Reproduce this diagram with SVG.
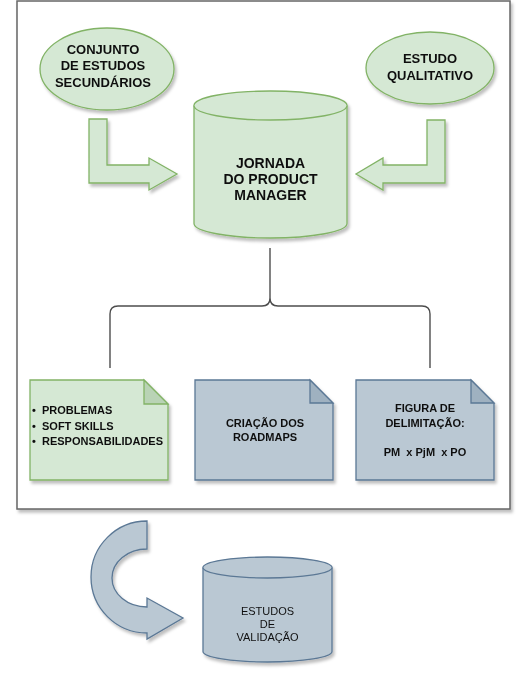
<svg xmlns="http://www.w3.org/2000/svg" width="529" height="682" viewBox="0 0 529 682">
<defs>
<filter id="sh" x="-10%" y="-10%" width="130%" height="130%">
<feDropShadow dx="2" dy="3" stdDeviation="1.5" flood-color="#000" flood-opacity="0.25"/>
</filter>
</defs>
<style>
.g{fill:#d5e8d4;stroke:#82b366;stroke-width:1.3}
.b{fill:#bac8d3;stroke:#5b7895;stroke-width:1.3}
.fg{fill:#b9d3b5;stroke:#82b366;stroke-width:1.3}
.fb{fill:#9fb1c0;stroke:#5b7895;stroke-width:1.3}
text{font-family:"Liberation Sans",Arial,sans-serif;fill:#111;text-anchor:middle}
.t13{font-size:13px;font-weight:bold}
.t14{font-size:14px;font-weight:bold}
.t11{font-size:11px;font-weight:bold}
.r11{font-size:11px}
.conn{fill:none;stroke:#4d4d4d;stroke-width:1.4}
</style>
<rect x="17" y="1" width="493" height="508" fill="#fff" stroke="#666" stroke-width="1.5" filter="url(#sh)"/>

<g id="conjunto" filter="url(#sh)">
<ellipse class="g" cx="107" cy="69" rx="67" ry="41"/>
<text class="t13" x="103" y="54">CONJUNTO</text>
<text class="t13" x="103" y="70">DE ESTUDOS</text>
<text class="t13" x="103" y="87">SECUNDÁRIOS</text>
</g>

<g id="qualitativo" filter="url(#sh)">
<ellipse class="g" cx="430" cy="68" rx="64" ry="36"/>
<text class="t13" x="430" y="63">ESTUDO</text>
<text class="t13" x="430" y="80">QUALITATIVO</text>
</g>

<g id="arrow-left" filter="url(#sh)">
<polygon class="g" points="89,119 107,119 107,165 149,165 149,158 177,174 149,190 149,183 89,183"/>
</g>
<g id="arrow-right" filter="url(#sh)">
<polygon class="g" points="445,120 427,120 427,165 383,165 383,158 356,174 383,190 383,183 445,183"/>
</g>

<g id="jornada" filter="url(#sh)">
<path class="g" d="M194,105.5 A76.5,14.5 0 0 1 347,105.5 V223.5 A76.5,14.5 0 0 1 194,223.5 Z"/>
<path class="g" fill="none" d="M194,105.5 A76.5,14.5 0 0 0 347,105.5"/>
<text class="t14" x="270.5" y="168">JORNADA</text>
<text class="t14" x="270.5" y="184">DO PRODUCT</text>
<text class="t14" x="270.5" y="200">MANAGER</text>
</g>

<g id="connectors">
<path class="conn" d="M270,248 V298"/>
<path class="conn" d="M110,368 V314 Q110,306 118,306 H262 Q270,306 270,298 Q270,306 278,306 H422 Q430,306 430,314 V368"/>
</g>

<g id="doc-problemas" filter="url(#sh)">
<path class="g" d="M30,380 H144 L168,404 V480 H30 Z"/>
<path class="fg" d="M144,380 V404 H168 Z"/>
<text class="t11" x="32" y="414" style="text-anchor:start">•</text>
<text class="t11" x="42" y="414" style="text-anchor:start">PROBLEMAS</text>
<text class="t11" x="32" y="430" style="text-anchor:start">•</text>
<text class="t11" x="42" y="430" style="text-anchor:start">SOFT SKILLS</text>
<text class="t11" x="32" y="445" style="text-anchor:start">•</text>
<text class="t11" x="42" y="445" style="text-anchor:start">RESPONSABILIDADES</text>
</g>

<g id="doc-roadmaps" filter="url(#sh)">
<path class="b" d="M195,380 H310 L333,403 V480 H195 Z"/>
<path class="fb" d="M310,380 V403 H333 Z"/>
<text class="t11" x="265" y="427">CRIAÇÃO DOS</text>
<text class="t11" x="265" y="441">ROADMAPS</text>
</g>

<g id="doc-figura" filter="url(#sh)">
<path class="b" d="M356,380 H471 L494,403 V480 H356 Z"/>
<path class="fb" d="M471,380 V403 H494 Z"/>
<text class="t11" x="425" y="412">FIGURA DE</text>
<text class="t11" x="425" y="427">DELIMITAÇÃO:</text>
<text class="t11" x="425" y="456" style="white-space:pre">PM  x PjM  x PO</text>
</g>

<g id="arrow-curved" filter="url(#sh)">
<path class="b" d="M147,521 A56,56 0 0 0 147,633 L147,639 L183,618 L147,598 L147,607 A35,29 0 0 1 147,549 Z"/>
</g>

<g id="validacao" filter="url(#sh)">
<path class="b" d="M203,567.5 A64.5,10.5 0 0 1 332,567.5 V651.5 A64.5,10.5 0 0 1 203,651.5 Z"/>
<path class="b" fill="none" d="M203,567.5 A64.5,10.5 0 0 0 332,567.5"/>
<text class="r11" x="267.5" y="615">ESTUDOS</text>
<text class="r11" x="267.5" y="628">DE</text>
<text class="r11" x="267.5" y="641">VALIDAÇÃO</text>
</g>
</svg>
